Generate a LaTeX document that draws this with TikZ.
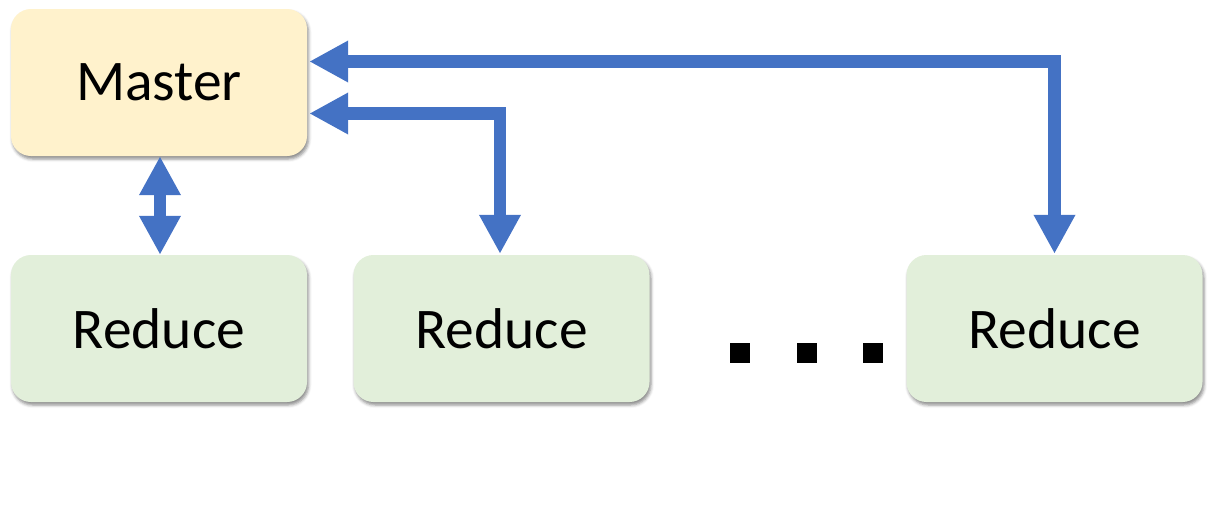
\documentclass[tikz,border=0pt]{standalone}
\usepackage{fontspec}
\setmainfont{Carlito}
\usetikzlibrary{arrows.meta,shadows.blur,calc}
\definecolor{masterfill}{HTML}{FFF2CC}
\definecolor{reducefill}{HTML}{E2EFDA}
\definecolor{arrowblue}{HTML}{4472C4}
\tikzset{
  boxbase/.style={rectangle, rounded corners=20pt, minimum width=296pt, minimum height=147pt,
    inner sep=0pt, font=\fontsize{57.5}{60}\selectfont,
    blur shadow={shadow xshift=1.5pt, shadow yshift=-3pt, shadow blur radius=3pt, shadow opacity=45}},
  masterbox/.style={boxbase, fill=masterfill},
  reducebox/.style={boxbase, fill=reducefill},
  link/.style={draw=arrowblue, line width=12.5pt, line join=miter,
    arrows={Triangle[length=39pt,width=39pt,fill=arrowblue]-Triangle[length=39pt,width=39pt,fill=arrowblue]}},
  dotsq/.style={rectangle, fill=black, minimum size=20pt, inner sep=0pt}
}
\begin{document}
\begin{tikzpicture}[x=1pt,y=-1pt]
\useasboundingbox (0,0) rectangle (1212,522);
\node[masterbox] (master) at (159,82.5) {Master};
\node[reducebox] (r1) at (159,328.5) {Reduce};
\node[reducebox] (r2) at (501.5,328.5) {Reduce};
\node[reducebox] (r3) at (1054.5,328.5) {Reduce};
\node[dotsq] (d1) at (740,353) {};
\node[dotsq] (d2) at (806.5,353) {};
\node[dotsq] (d3) at (873,353) {};
\draw[link] ([xshift=1pt]master.south) -- ([xshift=1pt]r1.north);
\draw[link] ([xshift=2pt,yshift=-31pt]master.east) -| ([xshift=-1.5pt,yshift=1pt]r2.north);
\draw[link] ([xshift=2pt,yshift=21pt]master.east) -| ([yshift=1pt]r3.north);
\end{tikzpicture}
\end{document}
